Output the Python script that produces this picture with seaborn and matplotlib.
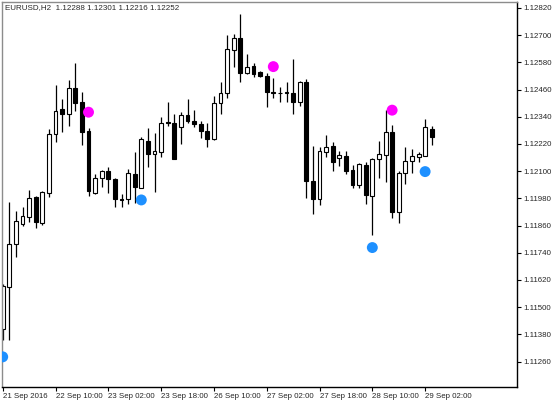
import numpy as np
import pandas as pd
import matplotlib
matplotlib.use("Agg")
import matplotlib.pyplot as plt
import seaborn as sns

# EURUSD H2 candles
opens = [1.11404, 1.11589, 1.11779, 1.11867, 1.11899, 1.11985, 1.11873, 1.12005, 1.12264, 1.12373,
         1.12351, 1.12466, 1.12404, 1.12279, 1.12005, 1.12071, 1.12101, 1.12064, 1.11976, 1.11976,
         1.12087, 1.12027, 1.12235, 1.12176, 1.12186, 1.12316, 1.12314, 1.12294, 1.12348, 1.12323,
         1.12308, 1.12279, 1.12241, 1.12402, 1.12446, 1.12635, 1.12686, 1.12532, 1.12564, 1.12539,
         1.12520, 1.12451, 1.12445, 1.12446, 1.12444, 1.12407, 1.12492, 1.12058, 1.11978, 1.12186,
         1.12213, 1.12157, 1.12167, 1.12105, 1.12039, 1.12128, 1.11992, 1.12153, 1.12172, 1.12272,
         1.11922, 1.12094, 1.12146, 1.12164, 1.12169, 1.12288]
highs = [1.11603, 1.11964, 1.11926, 1.11941, 1.12017, 1.11992, 1.12014, 1.12286, 1.12480, 1.12417,
         1.12502, 1.12576, 1.12451, 1.12289, 1.12088, 1.12105, 1.12120, 1.12068, 1.11999, 1.12109,
         1.12186, 1.12252, 1.12289, 1.12270, 1.12338, 1.12407, 1.12352, 1.12363, 1.12417, 1.12370,
         1.12319, 1.12314, 1.12432, 1.12491, 1.12701, 1.12704, 1.12794, 1.12617, 1.12579, 1.12542,
         1.12535, 1.12510, 1.12469, 1.12494, 1.12594, 1.12499, 1.12505, 1.12211, 1.12206, 1.12260,
         1.12230, 1.12191, 1.12191, 1.12128, 1.12138, 1.12142, 1.12160, 1.12235, 1.12370, 1.12304,
         1.12102, 1.12208, 1.12197, 1.12186, 1.12329, 1.12301]
lows = [1.11356, 1.11356, 1.11720, 1.11860, 1.11877, 1.11848, 1.11863, 1.11985, 1.12230, 1.12274,
        1.12300, 1.12367, 1.12216, 1.11992, 1.11999, 1.12032, 1.12003, 1.11944, 1.11941, 1.11956,
        1.11959, 1.12025, 1.12120, 1.12010, 1.12164, 1.12300, 1.12153, 1.12220, 1.12314, 1.12294,
        1.12245, 1.12208, 1.12238, 1.12351, 1.12422, 1.12561, 1.12491, 1.12529, 1.12517, 1.12514,
        1.12385, 1.12422, 1.12407, 1.12407, 1.12352, 1.12388, 1.11981, 1.11911, 1.11951, 1.12164,
        1.12102, 1.12123, 1.12088, 1.12025, 1.12025, 1.11956, 1.11819, 1.12069, 1.12054, 1.11892,
        1.11870, 1.12042, 1.12094, 1.12142, 1.12167, 1.12216]
closes = [1.11594, 1.11779, 1.11882, 1.11903, 1.11981, 1.11877, 1.12010, 1.12264, 1.12367, 1.12351,
          1.12466, 1.12402, 1.12274, 1.12013, 1.12071, 1.12101, 1.12064, 1.11976, 1.11974, 1.12091,
          1.12030, 1.12241, 1.12176, 1.12189, 1.12314, 1.12314, 1.12153, 1.12348, 1.12322, 1.12308,
          1.12279, 1.12242, 1.12402, 1.12446, 1.12638, 1.12686, 1.12532, 1.12561, 1.12529, 1.12519,
          1.12450, 1.12444, 1.12446, 1.12447, 1.12407, 1.12494, 1.12058, 1.11978, 1.12191, 1.12208,
          1.12139, 1.12172, 1.12102, 1.12039, 1.12131, 1.11995, 1.12153, 1.12175, 1.12272, 1.11922,
          1.12094, 1.12146, 1.12169, 1.12176, 1.12294, 1.12252]

# indicator dots
signal_bars = [0, 13, 21, 41, 56, 59, 64]
signal_prices = [1.11281, 1.12360, 1.11973, 1.12561, 1.11763, 1.12369, 1.12098]
signal_kind = ["buy", "sell", "buy", "sell", "buy", "sell", "buy"]

date_labels = ["21 Sep 2016", "22 Sep 10:00", "23 Sep 02:00", "23 Sep 18:00", "26 Sep 10:00",
               "27 Sep 02:00", "27 Sep 18:00", "28 Sep 10:00", "29 Sep 02:00"]
price_ticks = [1.11260, 1.11380, 1.11500, 1.11620, 1.11740, 1.11860, 1.11980,
               1.12100, 1.12220, 1.12340, 1.12460, 1.12580, 1.12700, 1.12820]

sns.set_style("white")
plt.rcParams["font.family"] = ["Liberation Sans", "DejaVu Sans"]

df = pd.DataFrame({"open": opens, "high": highs, "low": lows, "close": closes})
df["bar"] = np.arange(len(df))
up = df["close"] >= df["open"]

sig = pd.DataFrame({"bar": signal_bars, "price": signal_prices, "kind": signal_kind})

fig = plt.figure(figsize=(5.6, 4.04), dpi=100)
ax = fig.add_axes([2 / 560, 17 / 404, 515 / 560, 385 / 404])

ax.vlines(df["bar"], df["low"], df["high"], color="black", lw=0.9, zorder=1)
ax.bar(df["bar"], df["close"] - df["open"], bottom=df["open"], width=0.6,
       color=np.where(up, "white", "black"), edgecolor="black", lw=0.8, zorder=2)

sns.scatterplot(data=sig, x="bar", y="price", hue="kind",
                palette={"buy": "#1E90FF", "sell": "#FF00FF"},
                s=62, edgecolor="none", legend=False, ax=ax, zorder=3)

ax.set_xlim(-0.106, 77.92)
ax.set_ylim(1.11148, 1.12846)

ax.yaxis.tick_right()
ax.set_yticks(price_ticks)
ax.set_yticklabels([f"{p:.5f}" for p in price_ticks])
ax.set_xticks(np.arange(len(date_labels)) * 8)
ax.set_xticklabels(date_labels)
for lab in ax.get_xticklabels():
    lab.set_ha("left")
ax.tick_params(axis="both", length=3, width=0.8, color="black", labelsize=5.7, pad=1.5,
               direction="out", bottom=True, right=True, left=False)
ax.set_xlabel("")
ax.set_ylabel("")

for side in ["top", "left"]:
    ax.spines[side].set_color("#8c8c8c")
    ax.spines[side].set_linewidth(1)
for side in ["right", "bottom"]:
    ax.spines[side].set_color("black")
    ax.spines[side].set_linewidth(1)

fig.text(5 / 560, 1 - 8 / 404, "EURUSD,H2  1.12288 1.12301 1.12216 1.12252",
         fontsize=5.8, va="center", ha="left")

fig.savefig("out.png", dpi=100)
